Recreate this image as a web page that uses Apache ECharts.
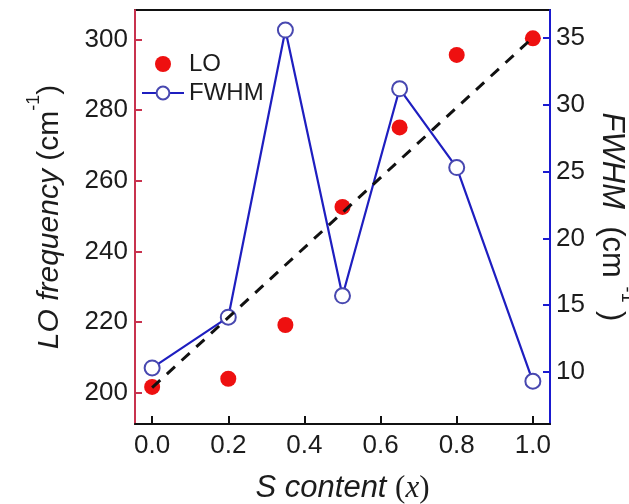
<!DOCTYPE html>
<html>
<head>
<meta charset="utf-8">
<script src="https://cdn.jsdelivr.net/npm/echarts@6/dist/echarts.min.js"></script>
<style>html,body{margin:0;padding:0;background:#fff;}#c{width:629px;height:504px;}</style>
</head>
<body>
<div id="c"></div>
<script>
// ---- data ----
var sContent = [0, 0.2, 0.35, 0.5, 0.65, 0.8, 1.0];
var loFrequency = [201.7, 204.0, 219.2, 252.6, 275.1, 295.6, 300.3];
var fwhm = [10.3, 14.1, 35.6, 15.7, 31.2, 25.3, 9.3];
var fitX = [0, 1.0];
var fitY = [201.5, 300.5];
var xTicks = [0, 0.2, 0.4, 0.6, 0.8, 1.0];
var loTicks = [200, 220, 240, 260, 280, 300];
var fwhmTicks = [10, 15, 20, 25, 30, 35];

function pairs(xs, ys) { return xs.map(function (x, i) { return [x, ys[i]]; }); }

var chart = echarts.init(document.getElementById('c'), null, {renderer: 'canvas'});
var FONT = 'Liberation Sans';
var TXT = '#1c1c1c';
var labelStyle = {fontFamily: FONT, fontSize: 26, color: TXT};
function titleRich(size) {
  return {
    i: {fontFamily: FONT, fontStyle: 'italic', fontSize: size, color: TXT, lineHeight: 40, verticalAlign: 'bottom'},
    n: {fontFamily: FONT, fontSize: size, color: TXT, lineHeight: 40, verticalAlign: 'bottom'},
    s: {fontFamily: FONT, fontSize: 18, color: TXT, lineHeight: 40, verticalAlign: 'top'}
  };
}

chart.setOption({
  animation: false,
  backgroundColor: '#fff',
  grid: {left: 135, right: 79, top: 10, bottom: 80, outerBoundsMode: 'none', containLabel: false,
         show: true, borderColor: '#111', borderWidth: 2, backgroundColor: 'transparent'},
  legend: {
    left: 136, top: 47, orient: 'vertical', itemWidth: 42, itemHeight: 16, itemGap: 5,
    textStyle: {fontFamily: FONT, fontSize: 24, color: TXT},
    data: ['LO', 'FWHM']
  },
  xAxis: {
    type: 'value', min: -0.045, max: 1.045,
    axisLine: {show: true, onZero: false, lineStyle: {color: '#111', width: 2}},
    axisTick: {show: true, inside: true, length: 8, customValues: xTicks, lineStyle: {color: '#111', width: 2}},
    axisLabel: Object.assign({customValues: xTicks, margin: 9, formatter: function (v) { return v.toFixed(1); }}, labelStyle),
    splitLine: {show: false},
    name: '{i|S content }{p|(}{x|x}{p|)}',
    nameLocation: 'middle', nameGap: 49,
    nameTextStyle: {
      rich: {
        i: {fontFamily: FONT, fontStyle: 'italic', fontSize: 31, color: TXT},
        p: {fontFamily: 'Liberation Serif', fontSize: 31, color: TXT},
        x: {fontFamily: 'Liberation Serif', fontStyle: 'italic', fontSize: 31, color: TXT}
      }
    }
  },
  yAxis: [{
    type: 'value', min: 191.2, max: 308.3, position: 'left',
    axisLine: {show: true, onZero: false, lineStyle: {color: '#c8324e', width: 2}},
    axisTick: {show: true, inside: true, length: 7, customValues: loTicks, lineStyle: {color: '#c8324e', width: 2}},
    axisLabel: Object.assign({customValues: loTicks, margin: 7}, labelStyle),
    splitLine: {show: false},
    name: '{i|LO frequency }{n|(cm}{s|-1}{n|)}',
    nameLocation: 'middle', nameGap: 70,
    nameTextStyle: {rich: titleRich(30)}
  }, {
    type: 'value', min: 6.1, max: 37.1, position: 'right',
    axisLine: {show: true, onZero: false, lineStyle: {color: '#1a1ad0', width: 2}},
    axisTick: {show: true, inside: true, length: 7, customValues: fwhmTicks, lineStyle: {color: '#1a1ad0', width: 2}},
    axisLabel: Object.assign({customValues: fwhmTicks, margin: 6}, labelStyle),
    splitLine: {show: false},
    name: '{i|FWHM  }{n|(cm }{s|-1}{n| )}',
    nameLocation: 'middle', nameGap: 36, nameRotate: -90,
    nameTextStyle: {rich: titleRich(31)}
  }],
  series: [{
    name: 'LO', type: 'scatter', yAxisIndex: 0, z: 2,
    symbol: 'circle', symbolSize: 16,
    itemStyle: {color: '#ee1010', opacity: 1},
    data: pairs(sContent, loFrequency)
  }, {
    name: 'FWHM', type: 'line', yAxisIndex: 1, z: 3,
    symbol: 'emptyCircle', symbolSize: 15, showAllSymbol: true,
    itemStyle: {color: '#4848b0', borderWidth: 1.5},
    lineStyle: {color: '#1e1ec0', width: 2.2},
    data: pairs(sContent, fwhm)
  }, {
    name: 'fit', type: 'line', yAxisIndex: 0, z: 4,
    symbol: 'none',
    lineStyle: {color: '#111', width: 3, type: [11, 9]},
    data: pairs(fitX, fitY)
  }]
});
</script>
</body>
</html>
